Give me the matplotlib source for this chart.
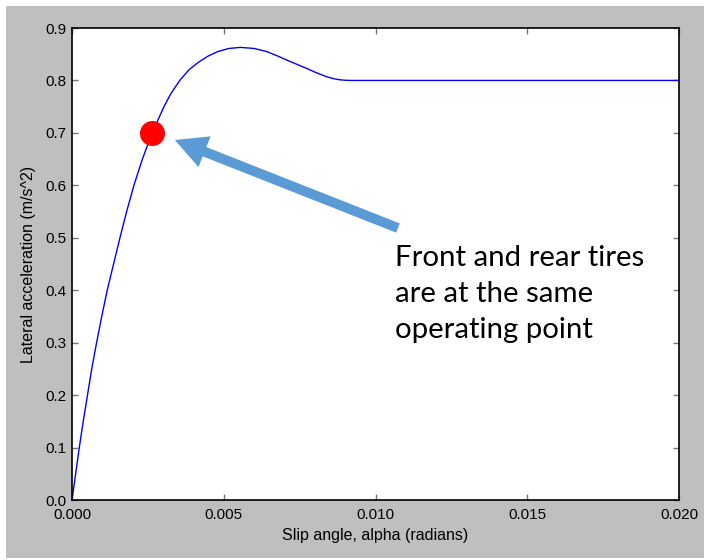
import numpy as np
import matplotlib.pyplot as plt
from matplotlib.patches import Rectangle

# lateral acceleration vs slip angle
alpha = [0.0, 0.00012, 0.00024, 0.00037, 0.00051, 0.00065, 0.00081, 0.00098,
         0.00116, 0.00137, 0.00158, 0.0018, 0.00204, 0.00232, 0.00264,
         0.00303, 0.00326, 0.00355, 0.00385, 0.00415, 0.00447, 0.0048,
         0.00517, 0.00555,
         0.0060, 0.00642, 0.0068, 0.00707, 0.0074, 0.00773, 0.0080,
         0.00839, 0.00865, 0.00883, 0.009, 0.00916, 0.020]
accel = [0.0, 0.05, 0.1, 0.15, 0.2, 0.25, 0.3, 0.35,
         0.4, 0.45, 0.5, 0.55, 0.6, 0.65, 0.7,
         0.75, 0.775, 0.8, 0.82, 0.834, 0.846, 0.855,
         0.861, 0.863,
         0.861, 0.855, 0.846, 0.839, 0.831, 0.823, 0.816,
         0.807, 0.803, 0.8012, 0.8004, 0.8, 0.8]

# operating point shared by front and rear tires
op_alpha = 0.00264
op_accel = 0.70

xticks = [0.000, 0.005, 0.010, 0.015, 0.020]
yticks = [0.0, 0.1, 0.2, 0.3, 0.4, 0.5, 0.6, 0.7, 0.8, 0.9]
note = "Front and rear tires\nare at the same\noperating point"

plt.rcParams['font.family'] = ['Liberation Sans', 'DejaVu Sans']

W, H = 704, 560
fig = plt.figure(figsize=(W / 100, H / 100), dpi=100, facecolor='#bfbfbf')
# thin white margins on the left, top and bottom
for r in [(0, 0, 6 / W, 1), (0, 1 - 6 / H, 1, 6 / H), (0, 0, 1, 2 / H)]:
    fig.patches.append(Rectangle(r[:2], r[2], r[3], transform=fig.transFigure,
                                 facecolor='white', edgecolor='none', zorder=-1))

ax = fig.add_axes([72 / W, 60 / H, 607 / W, 472 / H])
ax.plot(alpha, accel, color='#0000ff', lw=1.0)
ax.plot([op_alpha], [op_accel], 'o', color='#ff0000', ms=17, zorder=5)

ax.set_xlim(0, 0.02)
ax.set_ylim(0, 0.9)
ax.set_xticks(xticks)
ax.set_yticks(yticks)
ax.set_xticklabels(["%.3f" % v for v in xticks])
ax.set_yticklabels(["%.1f" % v for v in yticks])
ax.tick_params(direction='in', length=4, width=1, color='#777777',
               top=True, right=True, labelsize=11)
ax.tick_params(axis='x', pad=6)
ax.tick_params(axis='y', pad=4)
for s in ax.spines.values():
    s.set_linewidth(1.2)
    s.set_color('black')

ax.set_xlabel("Slip angle, alpha (radians)", fontsize=11.5, labelpad=4)
ax.set_ylabel("Lateral acceleration (m/s^2)", fontsize=11.5, labelpad=7)

# callout arrow pointing at the operating point
ax.annotate("", xy=(0.00339, 0.6864), xytext=(0.01074, 0.5186),
            arrowprops=dict(arrowstyle="simple,head_width=1.4,head_length=1.35,tail_width=0.42",
                            fc='#5b9bd5', ec='none', mutation_scale=17,
                            shrinkA=0, shrinkB=0))

ax.text(0.01065, 0.486, note, fontsize=21.2, family=['Lato', 'DejaVu Sans'],
        va='top', ha='left', linespacing=1.47)

fig.savefig("out.png", dpi=100, facecolor=fig.get_facecolor())
